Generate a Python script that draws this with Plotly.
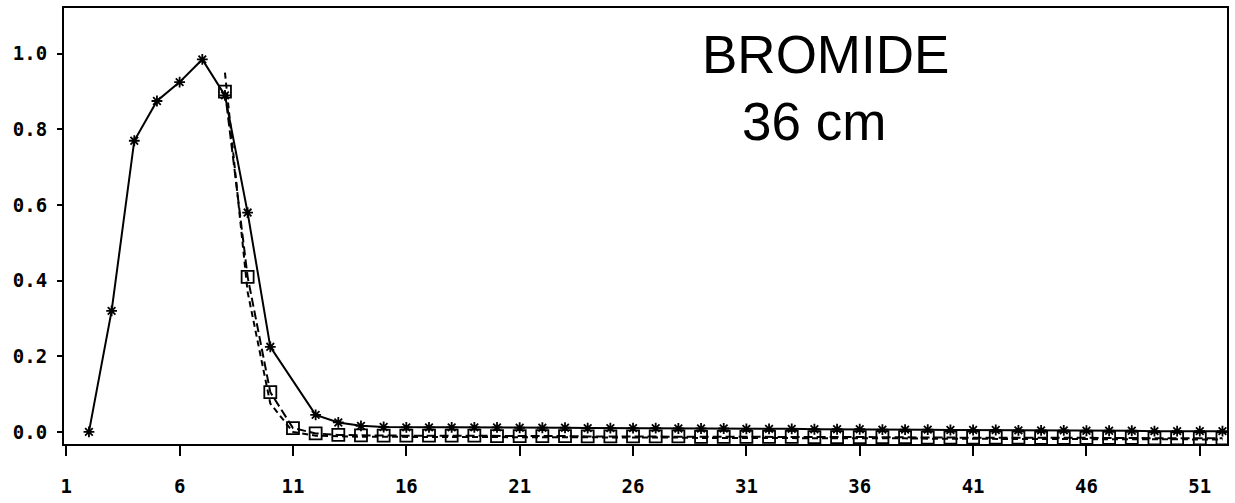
import plotly.graph_objects as go

# Relative concentration vs. pore volume / sample number, bromide breakthrough at 36 cm
x_solid = [2, 3, 4, 5, 6, 7, 8, 9, 10, 12, 13, 14, 15, 16, 17, 18, 19, 20, 21, 22,
           23, 24, 25, 26, 27, 28, 29, 30, 31, 32, 33, 34, 35, 36, 37, 38, 39, 40,
           41, 42, 43, 44, 45, 46, 47, 48, 49, 50, 51, 52]
y_solid = [0.0, 0.32, 0.77, 0.875, 0.925, 0.985, 0.89, 0.58, 0.225, 0.045, 0.025,
           0.016, 0.013, 0.012, 0.012, 0.012, 0.012, 0.012, 0.011, 0.011, 0.011,
           0.010, 0.010, 0.010, 0.010, 0.009, 0.009, 0.009, 0.008, 0.008, 0.008,
           0.007, 0.007, 0.007, 0.006, 0.006, 0.006, 0.005, 0.005, 0.005, 0.004,
           0.004, 0.004, 0.003, 0.003, 0.003, 0.002, 0.002, 0.002, 0.002]

x_square = [8, 9, 10, 11, 12, 13, 14, 15, 16, 17, 18, 19, 20, 21, 22, 23, 24, 25,
            26, 27, 28, 29, 30, 31, 32, 33, 34, 35, 36, 37, 38, 39, 40, 41, 42, 43,
            44, 45, 46, 47, 48, 49, 50, 51, 52]
y_square = [0.90, 0.41, 0.105, 0.01, -0.004, -0.008, -0.009, -0.010, -0.010, -0.010,
            -0.010, -0.010, -0.011, -0.011, -0.011, -0.011, -0.012, -0.012, -0.012,
            -0.012, -0.012, -0.013, -0.013, -0.013, -0.013, -0.013, -0.014, -0.014,
            -0.014, -0.014, -0.014, -0.015, -0.015, -0.015, -0.015, -0.015, -0.016,
            -0.016, -0.016, -0.016, -0.016, -0.017, -0.017, -0.017, -0.017]

x_dash = [8, 9, 10, 11, 12, 13, 14, 15, 16, 17, 18, 19, 20, 21, 22, 23, 24, 25, 26,
          27, 28, 29, 30, 31, 32, 33, 34, 35, 36, 37, 38, 39, 40, 41, 42, 43, 44, 45,
          46, 47, 48, 49, 50, 51, 52]
y_dash = [0.95, 0.37, 0.075, 0.0, -0.010, -0.012, -0.013, -0.013, -0.013, -0.013,
          -0.013, -0.014, -0.014, -0.014, -0.014, -0.014, -0.015, -0.015, -0.015,
          -0.015, -0.015, -0.016, -0.016, -0.016, -0.016, -0.016, -0.017, -0.017,
          -0.017, -0.017, -0.017, -0.018, -0.018, -0.018, -0.018, -0.018, -0.019,
          -0.019, -0.019, -0.019, -0.019, -0.020, -0.020, -0.020, -0.020]

x_ticks = [1, 6, 11, 16, 21, 26, 31, 36, 41, 46, 51]
y_ticks = [0.0, 0.2, 0.4, 0.6, 0.8, 1.0]
y_tick_text = ["0.0", "0.2", "0.4", "0.6", "0.8", "1.0"]

title_line1 = "BROMIDE"
title_line2 = "36 cm"

fig = go.Figure()

fig.add_trace(go.Scatter(
    x=x_dash, y=y_dash, mode="lines",
    line=dict(color="black", width=2, dash="6px,4px"),
    showlegend=False,
))
fig.add_trace(go.Scatter(
    x=x_square, y=y_square, mode="lines+markers",
    line=dict(color="black", width=2, dash="9px,4px"),
    marker=dict(symbol="square-open", size=12, color="black",
                line=dict(color="black", width=1.8)),
    showlegend=False,
))
fig.add_trace(go.Scatter(
    x=x_solid, y=y_solid, mode="lines+markers",
    line=dict(color="black", width=2),
    marker=dict(symbol="asterisk-open", size=9, color="black",
                line=dict(color="black", width=1.8)),
    showlegend=False,
))

tick_font = dict(family="DejaVu Sans Mono", size=19, color="black", weight="bold")

fig.update_xaxes(
    range=[0.9, 52.2],
    tickmode="array", tickvals=x_ticks, ticktext=[str(v) for v in x_ticks],
    ticks="outside", ticklen=10, tickwidth=2, tickcolor="black",
    showline=True, linecolor="black", linewidth=2, mirror=True,
    showgrid=False, zeroline=False,
    tickfont=tick_font, ticklabelstandoff=14,
)
fig.update_yaxes(
    range=[-0.032, 1.121],
    tickmode="array", tickvals=y_ticks, ticktext=y_tick_text,
    ticks="outside", ticklen=5, tickwidth=2, tickcolor="black",
    showline=True, linecolor="black", linewidth=2, mirror=True,
    showgrid=False, zeroline=False,
    tickfont=tick_font, ticklabelstandoff=6,
)

title_font = dict(family="Liberation Sans", size=53, color="black")
fig.add_annotation(text=title_line1, xref="paper", yref="paper",
                   x=0.655, y=0.893, xanchor="center", yanchor="middle",
                   showarrow=False, font=title_font)
fig.add_annotation(text=title_line2, xref="paper", yref="paper",
                   x=0.645, y=0.740, xanchor="center", yanchor="middle",
                   showarrow=False, font=title_font)

fig.update_layout(
    width=1235, height=503,
    margin=dict(l=64, r=6, t=7, b=58),
    paper_bgcolor="white", plot_bgcolor="white",
)

fig.write_html("out.html")
